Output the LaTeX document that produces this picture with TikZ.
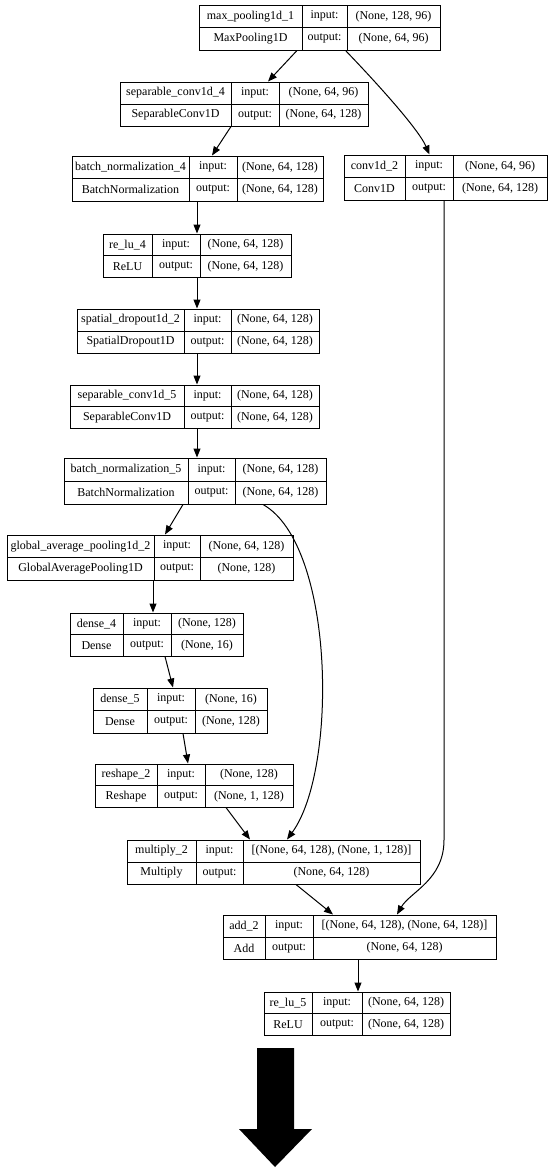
\documentclass[tikz,border=0pt]{standalone}
\usepackage{fontspec}
\setmainfont{Liberation Serif}
\usetikzlibrary{arrows.meta}
\newcommand\klayer[7]{%
  \pgfmathsetmacro\kw{#5-#2}\pgfmathsetmacro\kh{#7-#6}%
  \node[box, minimum width=\kw pt, minimum height=\kh pt] (#1) at ({(#2+#5)/2},{(#6+#7)/2}) {};
  \draw[rule] (#3,#6) -- (#3,#7) (#4,#6) -- (#4,#7) (#2,{(#6+#7)/2}) -- (#5,{(#6+#7)/2});
  \coordinate (#1-a1) at ({(#2+#3)/2},{(3*#6+#7)/4});
  \coordinate (#1-a2) at ({(#2+#3)/2},{(#6+3*#7)/4});
  \coordinate (#1-b1) at ({(#3+#4)/2},{(3*#6+#7)/4});
  \coordinate (#1-b2) at ({(#3+#4)/2},{(#6+3*#7)/4});
  \coordinate (#1-c1) at ({(#4+#5)/2},{(3*#6+#7)/4});
  \coordinate (#1-c2) at ({(#4+#5)/2},{(#6+3*#7)/4});
}
\newcommand\ktext[5]{%
  \node[lbl] (#1-t1) at (#1-a1) {#2};
  \node[lbl] (#1-t2) at (#1-a2) {#3};
  \node[lbl] (#1-t3) at (#1-b1) {input:};
  \node[lbl] (#1-t4) at (#1-b2) {output:};
  \node[lbl] (#1-t5) at (#1-c1) {#4};
  \node[lbl] (#1-t6) at (#1-c2) {#5};
}
\begin{document}
\begin{tikzpicture}[x=1pt,y=-1pt,
  box/.style={draw, line width=1pt, inner sep=0pt},
  rule/.style={line width=1pt},
  lbl/.style={inner sep=0pt, font=\fontsize{12}{14}\selectfont},
  edge/.style={line width=1pt, -{Triangle[length=9pt,width=7pt]}}]
\fill[white] (0,0) rectangle (550,1170);
\useasboundingbox (0,0) rectangle (550,1170);

\klayer{mp}{199}{302}{347}{440}{5}{50}
\ktext{mp}{max\_pooling1d\_1}{MaxPooling1D}{(None, 128, 96)}{(None, 64, 96)}
\klayer{sc4}{120}{231}{279}{368}{82}{126}
\ktext{sc4}{separable\_conv1d\_4}{SeparableConv1D}{(None, 64, 96)}{(None, 64, 128)}
\klayer{bn4}{72}{189}{237}{323}{156}{201}
\ktext{bn4}{batch\_normalization\_4}{BatchNormalization}{(None, 64, 128)}{(None, 64, 128)}
\klayer{cv}{344}{405}{453}{547}{155}{200}
\ktext{cv}{conv1d\_2}{Conv1D}{(None, 64, 96)}{(None, 64, 128)}
\klayer{r4}{103}{152}{200}{291}{234}{277}
\ktext{r4}{re\_lu\_4}{ReLU}{(None, 64, 128)}{(None, 64, 128)}
\klayer{sd}{77}{184}{231}{319}{309}{353}
\ktext{sd}{spatial\_dropout1d\_2}{SpatialDropout1D}{(None, 64, 128)}{(None, 64, 128)}
\klayer{sc5}{70}{184}{231}{319}{385}{428}
\ktext{sc5}{separable\_conv1d\_5}{SeparableConv1D}{(None, 64, 128)}{(None, 64, 128)}
\klayer{bn5}{64}{188}{235}{326}{458}{504}
\ktext{bn5}{batch\_normalization\_5}{BatchNormalization}{(None, 64, 128)}{(None, 64, 128)}
\klayer{gap}{7}{154}{200}{293}{535}{580}
\ktext{gap}{global\_average\_pooling1d\_2}{GlobalAveragePooling1D}{(None, 64, 128)}{(None, 128)}
\klayer{d4}{70}{123}{171}{243}{613}{656}
\ktext{d4}{dense\_4}{Dense}{(None, 128)}{(None, 16)}
\klayer{d5}{93}{147}{195}{267}{688}{733}
\ktext{d5}{dense\_5}{Dense}{(None, 16)}{(None, 128)}
\klayer{rs}{95}{157}{205}{293}{764}{807}
\ktext{rs}{reshape\_2}{Reshape}{(None, 128)}{(None, 1, 128)}
\klayer{mul}{127}{196}{243}{420}{840}{884}
\ktext{mul}{multiply\_2}{Multiply}{[(None, 64, 128), (None, 1, 128)]}{(None, 64, 128)}
\klayer{add}{223}{265}{313}{496}{915}{959}
\ktext{add}{add\_2}{Add}{[(None, 64, 128), (None, 64, 128)]}{(None, 64, 128)}
\klayer{r5}{264}{312}{362}{450}{992}{1035}
\ktext{r5}{re\_lu\_5}{ReLU}{(None, 64, 128)}{(None, 64, 128)}

% connectors
\draw[edge] ([xshift=-22.5pt]mp.south) -- ([xshift=24pt]sc4.north);
\draw[edge] ([xshift=26pt]mp.south) .. controls (372,78) and (418,128) .. ([xshift=-16pt]cv.north);
\draw[edge] ([xshift=-13pt]sc4.south) -- ([xshift=14.5pt]bn4.north);
\draw[edge] ([xshift=-0.5pt]bn4.south) -- (r4.north);
\draw[edge] (r4.south) -- ([xshift=-1pt]sd.north);
\draw[edge] ([xshift=-1pt]sd.south) -- ([xshift=2.5pt]sc5.north);
\draw[edge] ([xshift=2.5pt]sc5.south) -- ([xshift=2pt]bn5.north);
\draw[edge] ([xshift=-12pt]bn5.south) -- ([xshift=15pt]gap.north);
\draw[edge] ([xshift=68pt]bn5.south) .. controls (335,545) and (338,770) .. ([xshift=13.5pt]mul.north);
\draw[edge] ([xshift=3pt]gap.south) -- ([xshift=-3.5pt]d4.north);
\draw[edge] ([xshift=8.5pt]d4.south) -- ([xshift=-7pt]d5.north);
\draw[edge] ([xshift=3pt]d5.south) -- ([xshift=-6pt]rs.north);
\draw[edge] ([xshift=32pt]rs.south) -- ([xshift=-23.5pt]mul.north);
\draw[edge] ([xshift=22.5pt]mul.south) -- ([xshift=-26.5pt]add.north);
\draw[edge] ([xshift=-1.5pt]cv.south) -- (444,840) .. controls (444,880) and (410,892) .. ([xshift=37.5pt]add.north);
\draw[edge] ([xshift=-1.5pt]add.south) -- ([xshift=1pt]r5.north);

% big arrow
\fill[black] (257,1048) -- (294,1048) -- (294,1129) -- (312,1129) -- (275,1167) -- (239,1129) -- (257,1129) -- cycle;
\end{tikzpicture}
\end{document}
